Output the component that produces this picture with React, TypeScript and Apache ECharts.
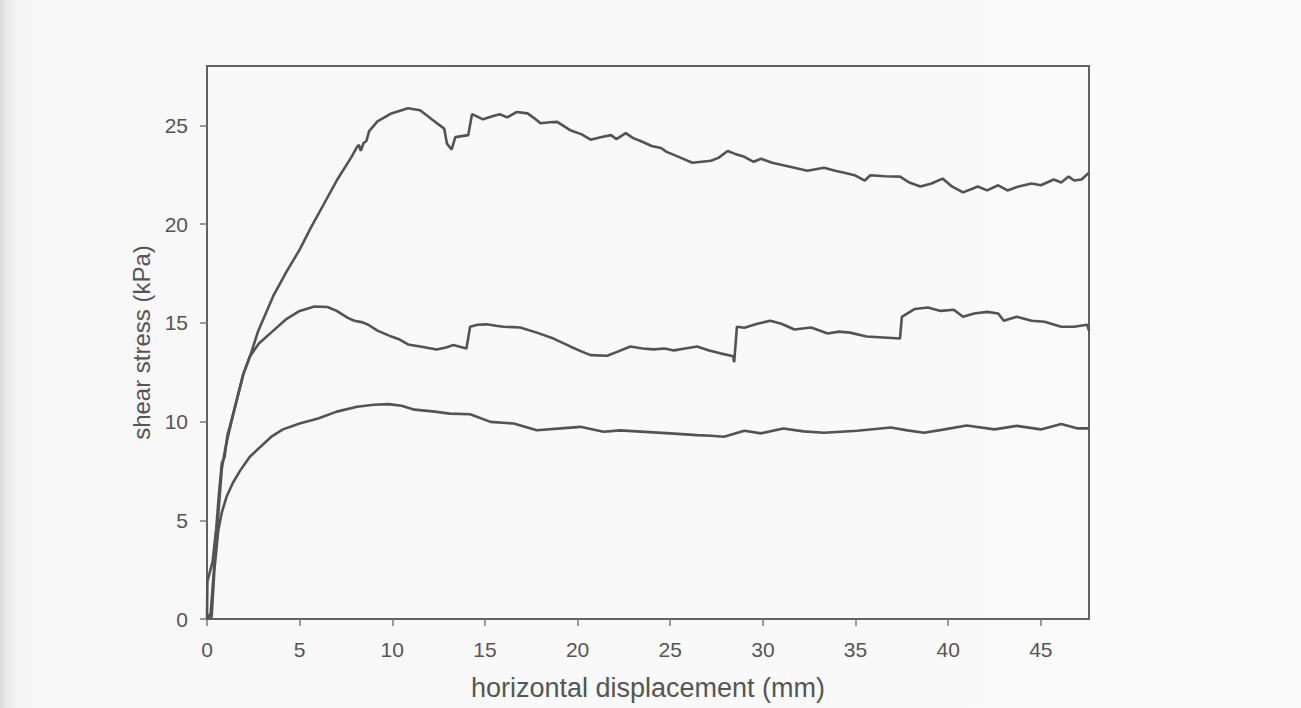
import React, { useEffect, useRef } from "react";
import * as echarts from "echarts";

const xTickValues = [0, 5, 10, 15, 20, 25, 30, 35, 40, 45];
const yTickValues = [0, 5, 10, 15, 20, 25];

const xTitle = "horizontal displacement (mm)";
const yTitle = "shear stress (kPa)";

// upper curve (peak ~26 kPa)
const highCurve: [number, number][] = [
  [0, 0], [0.02, 1.9], [0.3, 2.9], [0.5, 4.6], [0.65, 6.4], [0.8, 7.9], [0.95, 8.2], [1.1, 9.3],
  [1.42, 10.4], [1.96, 12.4], [2.32, 13.3], [2.77, 14.6], [3.6, 16.4], [4.3, 17.6],
  [5.0, 18.7], [5.6, 19.8], [6.3, 21.0], [7.0, 22.2], [7.8, 23.4], [8.1, 23.9], [8.2, 24.0],
  [8.3, 23.7], [8.45, 24.1], [8.6, 24.2], [8.75, 24.7], [9.2, 25.2], [9.95, 25.6], [10.85, 25.86],
  [11.5, 25.76], [12.2, 25.25], [12.8, 24.83], [12.95, 24.07], [13.2, 23.77], [13.4, 24.4],
  [14.1, 24.5], [14.3, 25.56], [14.9, 25.3], [15.4, 25.45], [15.8, 25.56], [16.2, 25.4],
  [16.7, 25.67], [17.3, 25.6], [17.6, 25.4], [18.0, 25.1], [18.5, 25.15], [18.9, 25.17],
  [19.6, 24.75], [20.2, 24.55], [20.7, 24.27], [21.3, 24.4], [21.8, 24.5], [22.1, 24.3],
  [22.6, 24.6], [23.0, 24.35], [23.4, 24.2], [24.0, 23.95], [24.5, 23.85], [24.8, 23.65],
  [25.2, 23.5], [25.7, 23.3], [26.2, 23.1], [26.7, 23.15], [27.2, 23.2], [27.6, 23.35],
  [28.1, 23.7], [28.5, 23.55], [29.0, 23.4], [29.5, 23.15], [29.9, 23.3], [30.5, 23.1],
  [31.1, 22.97], [31.7, 22.85], [32.4, 22.7], [33.3, 22.85], [33.9, 22.7], [34.4, 22.6],
  [35.0, 22.45], [35.5, 22.2], [35.8, 22.47], [36.6, 22.42], [37.4, 22.4], [37.9, 22.1],
  [38.5, 21.9], [39.1, 22.05], [39.7, 22.3], [40.2, 21.9], [40.8, 21.6], [41.2, 21.75],
  [41.6, 21.9], [42.1, 21.7], [42.7, 21.96], [43.2, 21.7], [43.8, 21.9], [44.5, 22.05],
  [45.0, 21.96], [45.7, 22.25], [46.1, 22.1], [46.5, 22.4], [46.8, 22.2], [47.2, 22.25],
  [47.6, 22.6],
];

// middle curve (peak ~16 kPa)
const midCurve: [number, number][] = [
  [0, 0], [0.2, 0.3], [0.4, 2.8], [0.6, 5.2], [0.8, 7.6], [1.0, 8.7], [1.42, 10.4], [1.96, 12.4],
  [2.32, 13.3], [2.8, 13.95], [3.58, 14.6], [4.3, 15.2], [5.0, 15.6], [5.8, 15.82], [6.5, 15.8],
  [7.0, 15.6], [7.6, 15.25], [7.95, 15.1], [8.4, 15.02], [8.7, 14.9], [9.2, 14.6], [9.95, 14.3],
  [10.4, 14.15], [10.85, 13.9], [11.5, 13.8], [12.4, 13.65], [12.9, 13.75], [13.3, 13.87],
  [14.0, 13.7], [14.2, 14.8], [14.6, 14.9], [15.1, 14.92], [15.6, 14.85], [16.0, 14.8],
  [16.9, 14.76], [17.8, 14.5], [18.7, 14.2], [19.6, 13.8], [20.2, 13.55], [20.7, 13.36],
  [21.6, 13.33], [22.2, 13.55], [22.85, 13.8], [23.5, 13.7], [24.1, 13.65], [24.7, 13.7],
  [25.2, 13.6], [25.8, 13.7], [26.45, 13.8], [27.1, 13.6], [27.7, 13.45], [28.4, 13.3],
  [28.45, 13.0], [28.6, 14.8], [29.0, 14.75], [29.7, 14.95], [30.4, 15.1], [31.0, 14.95],
  [31.7, 14.66], [32.6, 14.76], [33.5, 14.46], [34.1, 14.55], [34.7, 14.5], [35.6, 14.3],
  [36.5, 14.25], [37.4, 14.2], [37.5, 15.3], [38.2, 15.7], [38.9, 15.77], [39.6, 15.6],
  [40.3, 15.66], [40.8, 15.3], [41.4, 15.47], [42.1, 15.55], [42.7, 15.47], [43.0, 15.1],
  [43.7, 15.3], [44.5, 15.1], [45.2, 15.05], [46.1, 14.8], [46.8, 14.8], [47.5, 14.9],
  [47.6, 14.6],
];

// lower curve (peak ~11 kPa)
const lowCurve: [number, number][] = [
  [0, 0], [0.25, 0.1], [0.4, 2.5], [0.61, 4.5], [0.8, 5.4], [1.06, 6.2], [1.4, 6.9], [1.78, 7.5],
  [2.3, 8.2], [2.86, 8.7], [3.5, 9.25], [4.1, 9.6], [5.0, 9.9], [6.0, 10.15], [7.0, 10.5],
  [8.1, 10.75], [9.0, 10.85], [9.8, 10.88], [10.5, 10.8], [11.2, 10.6], [12.3, 10.5],
  [13.1, 10.4], [14.2, 10.37], [15.3, 9.98], [16.55, 9.9], [17.8, 9.56], [19.1, 9.65],
  [20.15, 9.73], [21.4, 9.48], [22.3, 9.55], [23.2, 9.5], [24.1, 9.45], [25.0, 9.4],
  [26.45, 9.31], [27.2, 9.28], [27.9, 9.23], [29.0, 9.53], [29.9, 9.4], [31.1, 9.65],
  [32.2, 9.5], [33.3, 9.43], [35.1, 9.53], [36.9, 9.7], [37.8, 9.55], [38.7, 9.43],
  [39.8, 9.6], [41.0, 9.8], [42.5, 9.6], [43.7, 9.78], [45.0, 9.6], [46.1, 9.87],
  [47.0, 9.65], [47.6, 9.65],
];

const X_MAX = 47.6;
const Y_MAX = 28;

export default function App() {
  const ref = useRef<HTMLDivElement>(null);

  useEffect(() => {
    document.body.style.margin = "0";
    if (!ref.current) return;
    const chart = echarts.init(ref.current, null, { renderer: "svg" });
    const font = "'Liberation Sans', Arial, sans-serif";
    const axisColor = "#626262";
    const textColor = "#555555";
    const lineColor = "#535353";
    const mkSeries = (name: string, data: [number, number][]) => ({
      name,
      type: "line",
      data,
      showSymbol: false,
      symbol: "none",
      smooth: false,
      lineStyle: { color: lineColor, width: 2.6 },
      emphasis: { disabled: true },
    });
    chart.setOption({
      animation: false,
      backgroundColor: "transparent",
      grid: {
        left: 207,
        right: 212,
        top: 66,
        bottom: 89,
        show: true,
        borderColor: axisColor,
        borderWidth: 2,
        backgroundColor: "transparent",
      },
      xAxis: {
        type: "value",
        min: 0,
        max: X_MAX,
        interval: 5,
        name: xTitle,
        nameLocation: "middle",
        nameGap: 55,
        nameTextStyle: { fontSize: 27, color: textColor, fontFamily: font },
        axisLine: { show: true, onZero: false, lineStyle: { color: axisColor, width: 2 } },
        axisTick: {
          show: true,
          inside: false,
          length: 7,
          customValues: xTickValues,
          lineStyle: { color: "#7a7a7a", width: 1.5 },
        },
        axisLabel: {
          customValues: xTickValues,
          fontSize: 21,
          color: textColor,
          fontFamily: font,
          margin: 20,
        },
        splitLine: { show: false },
      },
      yAxis: {
        type: "value",
        min: 0,
        max: Y_MAX,
        interval: 5,
        name: yTitle,
        nameLocation: "middle",
        nameGap: 52,
        nameTextStyle: { fontSize: 24, color: textColor, fontFamily: font },
        axisLine: { show: true, onZero: false, lineStyle: { color: axisColor, width: 2 } },
        axisTick: {
          show: true,
          inside: false,
          length: 7,
          customValues: yTickValues,
          lineStyle: { color: "#7a7a7a", width: 1.5 },
        },
        axisLabel: {
          customValues: yTickValues,
          fontSize: 21,
          color: textColor,
          fontFamily: font,
          margin: 19,
        },
        splitLine: { show: false },
      },
      series: [
        mkSeries("high", highCurve),
        mkSeries("middle", midCurve),
        mkSeries("low", lowCurve),
      ],
    });
    return () => chart.dispose();
  }, []);

  return (
    <div
      style={{
        position: "fixed",
        left: 0,
        top: 0,
        width: 1301,
        height: 708,
        background:
          "linear-gradient(to right, #d9d9d9 0px, #e9e9e9 6px, #f3f3f3 16px, #f8f8f8 40px, #fafafa 100%)",
      }}
    >
      <div ref={ref} style={{ width: 1301, height: 708 }} />
    </div>
  );
}
